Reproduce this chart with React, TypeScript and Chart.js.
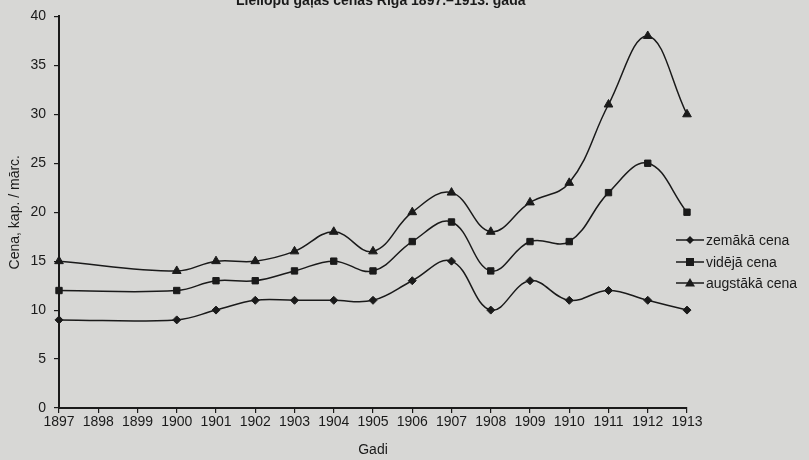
import React, { useEffect, useRef } from "react";
import { Chart, registerables } from "chart.js";

Chart.register(...registerables);

const years = ["1897","1898","1899","1900","1901","1902","1903","1904","1905","1906","1907","1908","1909","1910","1911","1912","1913"];
const zemaka = [9, null, null, 9, 10, 11, 11, 11, 11, 13, 15, 10, 13, 11, 12, 11, 10];
const videja = [12, null, null, 12, 13, 13, 14, 15, 14, 17, 19, 14, 17, 17, 22, 25, 20];
const augstaka = [15, null, null, 14, 15, 15, 16, 18, 16, 20, 22, 18, 21, 23, 31, 38, 30];
const seriesNames = ["zemākā cena", "vidējā cena", "augstākā cena"];
const titleText = "Liellopu gaļas cenas Rīgā 1897.–1913. gadā";

const FONT = "'Liberation Sans', Arial, sans-serif";
const INK = "#1a1a1a";

const titleLegendPlugin = {
  id: "titleLegend",
  afterDraw(chart: any) {
    const ctx = chart.ctx;
    ctx.save();
    ctx.fillStyle = INK;
    ctx.font = `bold 14px ${FONT}`;
    ctx.textAlign = "left";
    ctx.textBaseline = "alphabetic";
    ctx.fillText(titleText, 236, 5);

    const items = chart.data.datasets;
    const ys = [240, 262, 283];
    items.forEach((ds: any, i: number) => {
      const y = ys[i];
      ctx.strokeStyle = INK;
      ctx.lineWidth = 1.5;
      ctx.beginPath();
      ctx.moveTo(676, y);
      ctx.lineTo(704, y);
      ctx.stroke();
      ctx.fillStyle = INK;
      const cx = 690;
      ctx.beginPath();
      if (ds.pointStyle === "rectRot") {
        ctx.moveTo(cx, y - 4); ctx.lineTo(cx + 4, y); ctx.lineTo(cx, y + 4); ctx.lineTo(cx - 4, y);
      } else if (ds.pointStyle === "rect") {
        ctx.rect(cx - 4, y - 4, 8, 8);
      } else {
        ctx.moveTo(cx, y - 5); ctx.lineTo(cx + 5, y + 3.5); ctx.lineTo(cx - 5, y + 3.5);
      }
      ctx.closePath();
      ctx.fill();
      ctx.font = `14px ${FONT}`;
      ctx.textAlign = "left";
      ctx.textBaseline = "middle";
      ctx.fillText(seriesNames[i], 706, y + 1);
    });
    ctx.restore();
  },
};

export default function App() {
  const ref = useRef<HTMLCanvasElement>(null);
  useEffect(() => {
    const mk = (label: string, data: any[], style: string, r: number) => ({
      label,
      data,
      borderColor: INK,
      backgroundColor: INK,
      borderWidth: 1.5,
      pointStyle: style,
      pointRadius: r,
      pointHoverRadius: r,
      pointBackgroundColor: INK,
      pointBorderColor: INK,
      pointBorderWidth: 1,
      tension: 0.4,
      spanGaps: true,
      fill: false,
    });
    const chart = new Chart(ref.current!, {
      type: "line",
      data: {
        labels: years,
        datasets: [
          mk(seriesNames[0], zemaka, "rectRot", 4),
          mk(seriesNames[1], videja, "rect", 4.5),
          mk(seriesNames[2], augstaka, "triangle", 5),
        ],
      },
      plugins: [titleLegendPlugin],
      options: {
        animation: false,
        responsive: false,
        events: [],
        layout: { padding: { top: 15, right: 122, bottom: 0, left: 0 } },
        plugins: { legend: { display: false }, tooltip: { enabled: false }, title: { display: false } },
        scales: {
          x: {
            type: "category",
            offset: false,
            grid: { display: true, drawOnChartArea: false, drawTicks: true, tickLength: 5, color: INK, lineWidth: 1.2 },
            border: { display: true, color: INK, width: 2 },
            ticks: { color: INK, font: { family: FONT, size: 14 }, padding: 1, maxRotation: 0, autoSkip: false },
            title: { display: true, text: "Gadi", color: INK, font: { family: FONT, size: 14 }, padding: { top: 5, bottom: 1 } },
            afterFit: (s: any) => { s.height = 52; },
          },
          y: {
            min: 0,
            max: 40,
            grid: { display: true, drawOnChartArea: false, drawTicks: true, tickLength: 5, color: INK, lineWidth: 1.2 },
            border: { display: true, color: INK, width: 2 },
            ticks: { stepSize: 5, color: INK, font: { family: FONT, size: 14 }, padding: 8 },
            title: { display: true, text: "Cena, kap. / mārc.", color: INK, font: { family: FONT, size: 14 }, padding: { top: 7, bottom: 4 } },
            afterFit: (s: any) => { s.width = 59; },
          },
        },
      },
    } as any);
    return () => chart.destroy();
  }, []);
  return (
    <div style={{ position: "absolute", left: 0, top: 0, width: 809, height: 460, background: "#d7d7d5" }}>
      <canvas ref={ref} width={809} height={460} style={{ display: "block" }} />
    </div>
  );
}
